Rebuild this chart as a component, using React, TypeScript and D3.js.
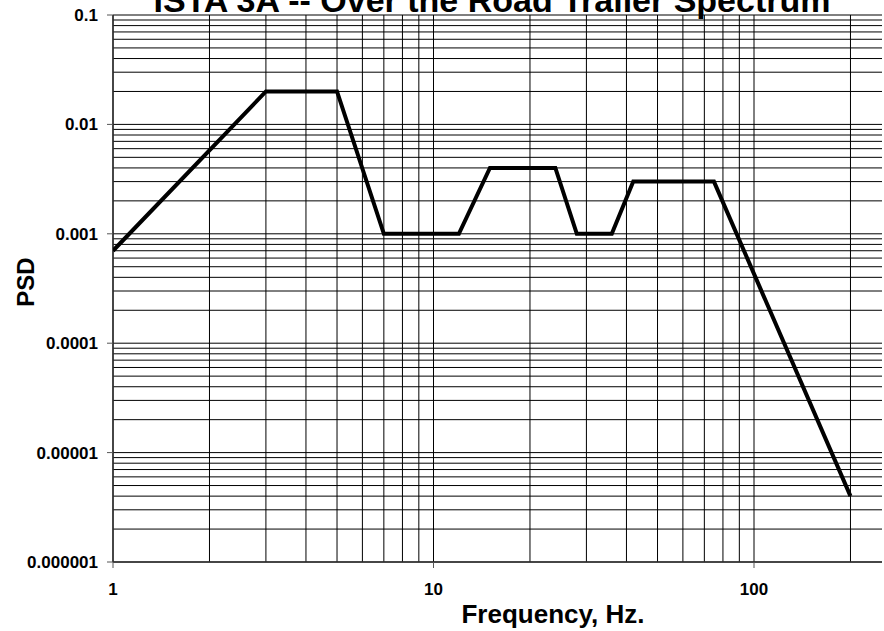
import React from 'react';
import * as d3 from 'd3';

// ISTA 3A over-the-road trailer PSD breakpoints
const freqHz = [1, 3, 5, 7, 12, 15, 24, 28, 36, 42, 75, 200];
const psdValues = [0.0007, 0.02, 0.02, 0.001, 0.001, 0.004, 0.004, 0.001, 0.001, 0.003, 0.003, 0.000004];

const yTickValues = [0.1, 0.01, 0.001, 0.0001, 0.00001, 0.000001];
const yTickLabels = ['0.1', '0.01', '0.001', '0.0001', '0.00001', '0.000001'];
const xTickValues = [1, 10, 100];
const xTickLabels = ['1', '10', '100'];

const titleText = 'ISTA 3A -- Over the Road Trailer Spectrum';
const xAxisTitle = 'Frequency, Hz.';
const yAxisTitle = 'PSD';

const W = 884;
const H = 631;
const plot = { left: 113, right: 882, top: 15, bottom: 562 };
const font = '"Liberation Sans", Arial, sans-serif';

export default function App() {
  const x = d3.scaleLog().domain([1, 100]).range([plot.left, 754]);
  const y = d3.scaleLog().domain([0.000001, 0.1]).range([plot.bottom, plot.top]);

  // minor + major grid lines
  const xGrid = x.copy().domain([1, 1000]).range([plot.left, plot.left + 1.5 * (754 - plot.left)])
    .ticks()
    .filter(v => x(v) <= plot.right);
  const yGrid = y.ticks();

  const line = d3.line<number>()
    .x((_, i) => x(freqHz[i]))
    .y(d => y(d));

  return (
    <svg width={W} height={H} style={{ position: 'absolute', left: 0, top: 0, background: '#fff' }}
      fontFamily={font}>
      <defs>
        <clipPath id="plotClip">
          <rect x={plot.left} y={plot.top - 3} width={plot.right - plot.left} height={plot.bottom - plot.top + 6} />
        </clipPath>
      </defs>

      <g>
        {yGrid.map((v, i) => (
          <line key={'hy' + i} x1={plot.left} x2={plot.right} y1={y(v)} y2={y(v)} stroke="#000" strokeWidth={1} />
        ))}
        {xGrid.map((v, i) => (
          <line key={'vx' + i} x1={x(v)} x2={x(v)} y1={plot.top} y2={plot.bottom} stroke="#000" strokeWidth={1} />
        ))}
      </g>

      {/* axes */}
      <line x1={plot.left} x2={plot.left} y1={plot.top} y2={plot.bottom} stroke="#333" strokeWidth={1.5} />
      <line x1={plot.left} x2={plot.right} y1={plot.bottom} y2={plot.bottom} stroke="#333" strokeWidth={1.5} />

      {yTickValues.map((v, i) => (
        <g key={'yt' + i}>
          <line x1={plot.left - 6} x2={plot.left} y1={y(v)} y2={y(v)} stroke="#555" strokeWidth={1} />
          <text x={98} y={y(v)} dy="0.35em" textAnchor="end" fontSize={17} fontWeight="bold">{yTickLabels[i]}</text>
        </g>
      ))}
      {xTickValues.map((v, i) => (
        <g key={'xt' + i}>
          <line x1={x(v)} x2={x(v)} y1={plot.bottom} y2={plot.bottom + 6} stroke="#555" strokeWidth={1} />
          <text x={x(v)} y={595} textAnchor="middle" fontSize={17} fontWeight="bold">{xTickLabels[i]}</text>
        </g>
      ))}

      <path d={line(psdValues) || ''} fill="none" stroke="#000" strokeWidth={4}
        strokeLinejoin="miter" clipPath="url(#plotClip)" />

      <text x={492} y={12} textAnchor="middle" fontSize={34} fontWeight="bold">{titleText}</text>
      <text x={553} y={623} textAnchor="middle" fontSize={26} fontWeight="bold">{xAxisTitle}</text>
      <text transform={`translate(34, 282) rotate(-90)`} textAnchor="middle" fontSize={24} fontWeight="bold">{yAxisTitle}</text>
    </svg>
  );
}
